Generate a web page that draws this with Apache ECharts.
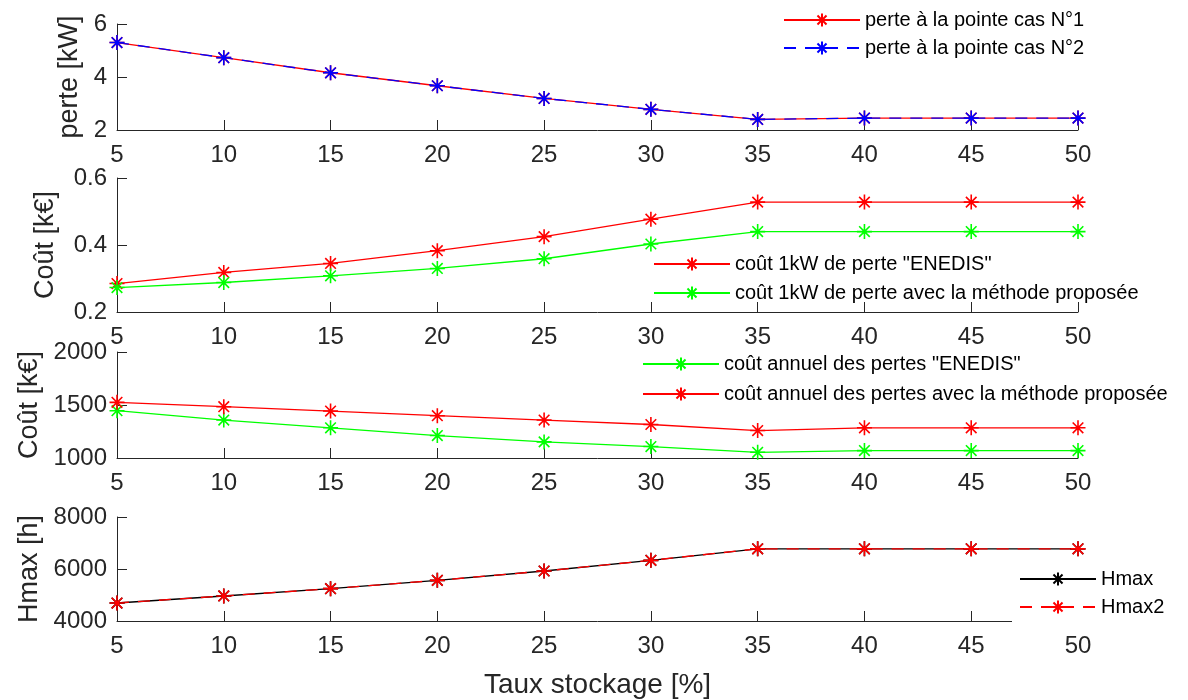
<!DOCTYPE html>
<html>
<head>
<meta charset="utf-8">
<script src="https://cdn.jsdelivr.net/npm/echarts@6/dist/echarts.min.js"></script>
<style>
html,body{margin:0;padding:0;background:#fff;}
#chart{width:1188px;height:700px;}
</style>
</head>
<body>
<div id="chart"></div>
<script>
// ---- data ----
var tauxStockage = [5, 10, 15, 20, 25, 30, 35, 40, 45, 50];
var xTicks = [5, 10, 15, 20, 25, 30, 35, 40, 45, 50];

var perteCas1 = [5.30, 4.73, 4.16, 3.67, 3.19, 2.78, 2.40, 2.45, 2.45, 2.45];
var perteCas2 = [5.30, 4.73, 4.16, 3.67, 3.19, 2.78, 2.40, 2.45, 2.45, 2.45];

var cout1kWEnedis = [0.285, 0.318, 0.345, 0.383, 0.425, 0.477, 0.528, 0.528, 0.528, 0.528];
var cout1kWMethode = [0.273, 0.288, 0.308, 0.330, 0.359, 0.403, 0.440, 0.440, 0.440, 0.440];

var coutAnnuelEnedis = [1446, 1358, 1285, 1212, 1152, 1108, 1054, 1070, 1070, 1070];
var coutAnnuelMethode = [1525, 1484, 1443, 1399, 1358, 1316, 1259, 1285, 1285, 1285];

var hmax = [4692, 4962, 5244, 5564, 5923, 6333, 6775, 6775, 6775, 6775];
var hmax2 = [4692, 4962, 5244, 5564, 5923, 6333, 6775, 6775, 6775, 6775];

var names = {
  cas1: 'perte à la pointe cas N°1',
  cas2: 'perte à la pointe cas N°2',
  c1e: 'coût 1kW de perte "ENEDIS"',
  c1m: 'coût 1kW de perte avec la méthode proposée',
  cae: 'coût annuel des pertes "ENEDIS"',
  cam: 'coût annuel des pertes avec la méthode proposée',
  h1: 'Hmax',
  h2: 'Hmax2'
};

// ---- helpers ----
var FONT = '"Liberation Sans", Arial, Helvetica, sans-serif';
var AX = '#262626';
var STAR = 'path://M0,-10L0,10M-10,0L10,0M-7.07,-7.07L7.07,7.07M-7.07,7.07L7.07,-7.07';

function pairs(ys) {
  return tauxStockage.map(function (x, i) { return [x, ys[i]]; });
}

function series(name, ys, color, idx, dashed) {
  return {
    name: name,
    type: 'line',
    xAxisIndex: idx,
    yAxisIndex: idx,
    data: pairs(ys),
    symbol: STAR,
    symbolSize: 15,
    symbolKeepAspect: true,
    showAllSymbol: true,
    animation: false,
    lineStyle: { color: color, width: 1.3, type: dashed ? [12, 9] : 'solid' },
    itemStyle: { color: color, borderColor: color, borderWidth: 1.6 }
  };
}

var grids = [
  { left: 117, right: 110, top: 24, height: 106 },
  { left: 117, right: 110, top: 178, height: 134 },
  { left: 117, right: 110, top: 352, height: 106 },
  { left: 117, right: 110, top: 517, height: 104 }
];

function xAxis(idx, name) {
  var a = {
    type: 'value', gridIndex: idx, min: xTicks[0], max: xTicks[xTicks.length - 1], interval: 5,
    axisLine: { show: true, onZero: false, lineStyle: { color: AX, width: 1 } },
    axisTick: { show: true, inside: true, length: 10, lineStyle: { color: AX } },
    axisLabel: { color: AX, fontSize: 24, fontFamily: FONT, margin: 13 },
    splitLine: { show: false }
  };
  if (name) {
    a.name = name; a.nameLocation = 'middle'; a.nameGap = 50;
    a.nameTextStyle = { color: AX, fontSize: 28, fontFamily: FONT };
  }
  return a;
}

function yAxis(idx, min, max, interval, name, gap) {
  return {
    type: 'value', gridIndex: idx, min: min, max: max, interval: interval,
    name: name, nameLocation: 'middle', nameGap: gap, nameRotate: 90,
    nameTextStyle: { color: AX, fontSize: 27, fontFamily: FONT },
    axisLine: { show: true, lineStyle: { color: AX, width: 1 } },
    axisTick: { show: true, inside: true, length: 10, lineStyle: { color: AX } },
    axisLabel: { color: AX, fontSize: 24, fontFamily: FONT, margin: 10,
      formatter: function (v) { return interval < 1 ? v.toFixed(1) : String(Math.round(v)); } },
    splitLine: { show: false }
  };
}

function legend(data, left, top, gap, extra) {
  var l = {
    data: data, orient: 'vertical', left: left, top: top,
    itemWidth: 76, itemHeight: 16, itemGap: gap, padding: 0,
    textStyle: { color: '#000', fontSize: 20, fontFamily: FONT, lineHeight: 20 },
    selectedMode: false
  };
  if (extra) { for (var k in extra) l[k] = extra[k]; }
  return l;
}

var option = {
  backgroundColor: '#fff',
  animation: false,
  grid: grids,
  xAxis: [xAxis(0), xAxis(1), xAxis(2), xAxis(3, 'Taux stockage [%]')],
  yAxis: [
    yAxis(0, 2, 6, 2, 'perte [kW]', 34),
    yAxis(1, 0.2, 0.6, 0.2, 'Coût [k€]', 58),
    yAxis(2, 1000, 2000, 500, 'Coût [k€]', 70),
    yAxis(3, 4000, 8000, 2000, 'Hmax [h]', 70)
  ],
  legend: [
    legend([names.cas1, names.cas2], 783, 10, 8),
    legend([names.c1e, names.c1m], 653, 254, 9),
    legend([names.cae, names.cam], 642, 354, 10),
    legend([names.h1, names.h2], 1012, 563, 8,
      { backgroundColor: '#fff', padding: [6, 6, 14, 7] })
  ],
  series: [
    series(names.cas1, perteCas1, '#ff0000', 0, false),
    series(names.cas2, perteCas2, '#0000ff', 0, true),
    series(names.c1e, cout1kWEnedis, '#ff0000', 1, false),
    series(names.c1m, cout1kWMethode, '#00ff00', 1, false),
    series(names.cae, coutAnnuelEnedis, '#00ff00', 2, false),
    series(names.cam, coutAnnuelMethode, '#ff0000', 2, false),
    series(names.h1, hmax, '#000000', 3, false),
    series(names.h2, hmax2, '#ff0000', 3, true)
  ]
};

var chart = echarts.init(document.getElementById('chart'), null, { renderer: 'canvas' });
chart.setOption(option);
</script>
</body>
</html>
